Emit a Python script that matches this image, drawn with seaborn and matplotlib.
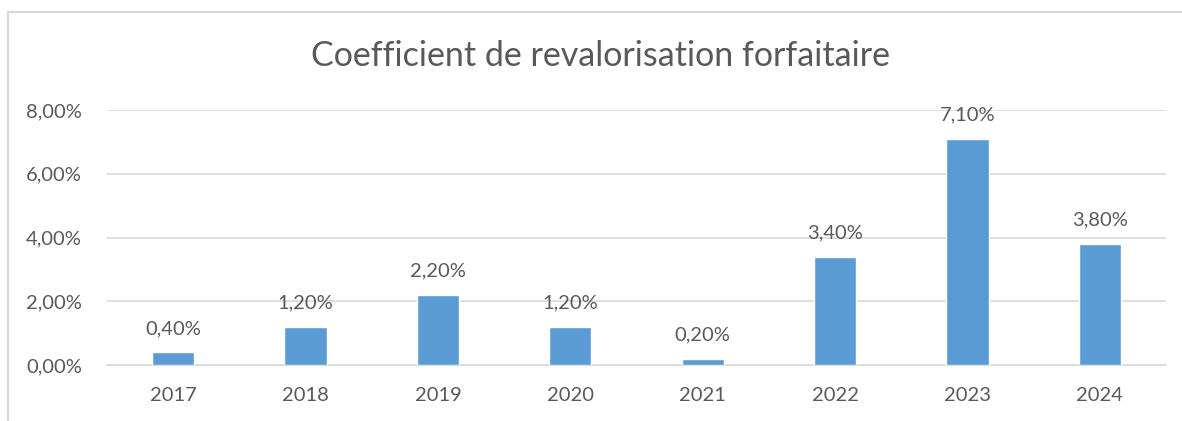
import matplotlib
matplotlib.use("Agg")
import matplotlib.pyplot as plt
import seaborn as sns
import pandas as pd
from matplotlib.patches import Rectangle
from matplotlib.ticker import FuncFormatter

# données
annees = ["2017", "2018", "2019", "2020", "2021", "2022", "2023", "2024"]
taux = [0.004, 0.012, 0.022, 0.012, 0.002, 0.034, 0.071, 0.038]
graduations = [0.0, 0.02, 0.04, 0.06, 0.08]

dados = pd.DataFrame({"annee": annees, "taux": taux})

sns.set_style("white")
plt.rcParams["font.family"] = ["Lato", "DejaVu Sans"]

gris = "#595959"
fig = plt.figure(figsize=(11.82, 4.21), dpi=100)
ax = fig.add_axes([107 / 1182, 56 / 421, 1059 / 1182, 255 / 421])

sns.barplot(data=dados, x="annee", y="taux", color="#5B9BD5", width=0.32,
            saturation=1, ax=ax, zorder=3)

ax.set_ylim(0, 0.08)
ax.set_yticks(graduations)
ax.yaxis.set_major_formatter(FuncFormatter(lambda v, p: f"{v*100:.2f}%".replace(".", ",")))
ax.grid(axis="y", color="#D9D9D9", linewidth=1.2, zorder=0)
ax.set_axisbelow(True)
for s in ax.spines.values():
    s.set_visible(False)
ax.spines["bottom"].set_visible(True)
ax.spines["bottom"].set_color("#D9D9D9")
ax.spines["bottom"].set_linewidth(1.2)
ax.tick_params(axis="both", length=0, labelsize=14.5, colors=gris)
ax.tick_params(axis="y", pad=18)
ax.tick_params(axis="x", pad=16)
ax.set_xlabel("")
ax.set_ylabel("")

# étiquettes de données
for i, v in enumerate(taux):
    ax.text(i, v + 0.0048, f"{v*100:.2f}%".replace(".", ","), ha="center", va="bottom",
            fontsize=14.5, color=gris, clip_on=False)

fig.text(0.508, 1 - 56 / 421, "Coefficient de revalorisation forfaitaire", ha="center",
         va="center", fontsize=24.5, color=gris)

# cadre du graphique
fig.patches.append(Rectangle((8 / 1182, -0.1), 1.2, 1 - 11.5 / 421 + 0.1,
                             transform=fig.transFigure, fill=False,
                             edgecolor="#D9D9D9", linewidth=1.5))

fig.savefig("out.png", dpi=100, facecolor="white")
